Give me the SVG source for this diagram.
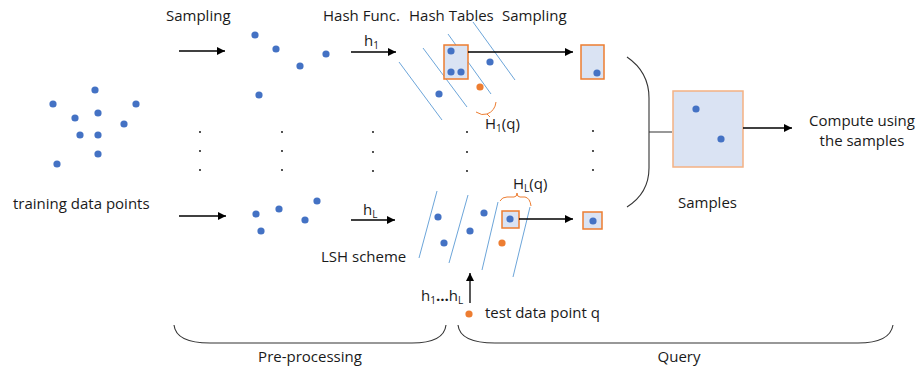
<svg xmlns="http://www.w3.org/2000/svg" width="917" height="371" viewBox="0 0 917 371">
  <defs>
    <marker id="arrow" viewBox="0 0 10 10" refX="10" refY="5" markerWidth="10" markerHeight="8" markerUnits="userSpaceOnUse" orient="auto">
      <path d="M0,0 L10,5 L0,10 z" fill="#000"/>
    </marker>
    <style>
      text { font-family: "Open Sans", "Liberation Sans", sans-serif; font-size: 15px; fill: #1a1a1a; }
      .pt { fill: #4472c4; }
      .q { fill: #ed7d31; }
      .bucket { fill: #dae3f3; stroke: #ed7d31; stroke-width: 1.5; }
      .cut { stroke: #5b9bd5; stroke-width: 0.9; fill: none; }
      .flow { stroke: #000; stroke-width: 1.3; fill: none; marker-end: url(#arrow); }
      .brace { stroke: #333; stroke-width: 1.1; fill: none; }
      .obrace { stroke: #ed7d31; stroke-width: 1; fill: none; }
      .ell { fill: #000; }
    </style>
  </defs>

  <!-- column headings -->
  <g id="headings">
    <text x="166" y="21">Sampling</text>
    <text x="323" y="21">Hash Func.</text>
    <text x="409" y="21">Hash Tables</text>
    <text x="502" y="21">Sampling</text>
  </g>

  <!-- full training set -->
  <g id="training">
    <circle class="pt" cx="95" cy="90" r="3.6"/>
    <circle class="pt" cx="53" cy="104" r="3.6"/>
    <circle class="pt" cx="136" cy="104" r="3.6"/>
    <circle class="pt" cx="75" cy="118" r="3.6"/>
    <circle class="pt" cx="98" cy="113" r="3.6"/>
    <circle class="pt" cx="124" cy="124" r="3.6"/>
    <circle class="pt" cx="80" cy="135" r="3.6"/>
    <circle class="pt" cx="98" cy="135" r="3.6"/>
    <circle class="pt" cx="98" cy="154" r="3.6"/>
    <circle class="pt" cx="57" cy="164" r="3.6"/>
    <text x="13" y="209">training data points</text>
  </g>

  <!-- sampled subsets -->
  <g id="subset-1">
    <circle class="pt" cx="255" cy="35" r="3.6"/>
    <circle class="pt" cx="276" cy="49" r="3.6"/>
    <circle class="pt" cx="300" cy="66" r="3.6"/>
    <circle class="pt" cx="326" cy="54" r="3.6"/>
    <circle class="pt" cx="259" cy="95" r="3.6"/>
  </g>
  <g id="subset-L">
    <circle class="pt" cx="256" cy="214" r="3.6"/>
    <circle class="pt" cx="279" cy="209" r="3.6"/>
    <circle class="pt" cx="317" cy="201" r="3.6"/>
    <circle class="pt" cx="305" cy="220" r="3.6"/>
    <circle class="pt" cx="261" cy="231" r="3.6"/>
  </g>

  <!-- hash table 1 -->
  <g id="table-1">
    <line class="cut" x1="399" y1="62" x2="442" y2="120"/>
    <line class="cut" x1="423" y1="48" x2="467" y2="107"/>
    <line class="cut" x1="448" y1="34" x2="491" y2="94"/>
    <line class="cut" x1="473" y1="22" x2="515" y2="80"/>
    <rect class="bucket" x="444" y="45" width="24" height="34"/>
    <circle class="pt" cx="451" cy="51" r="3.6"/>
    <circle class="pt" cx="451" cy="72" r="3.6"/>
    <circle class="pt" cx="461" cy="72" r="3.6"/>
    <circle class="pt" cx="490" cy="62" r="3.6"/>
    <circle class="pt" cx="439" cy="94" r="3.6"/>
    <circle class="q" cx="480" cy="87" r="3.6"/>
    <path class="obrace" d="M476,112 Q482,116 487,114 L490,117 M487,114 Q495,111 496,102"/>
    <text x="485" y="129">H<tspan font-size="10" dy="3">1</tspan><tspan dy="-3">(q)</tspan></text>
  </g>

  <!-- hash table L -->
  <g id="table-L">
    <line class="cut" x1="437" y1="191" x2="419" y2="258"/>
    <line class="cut" x1="468" y1="195" x2="449" y2="263"/>
    <line class="cut" x1="498" y1="202" x2="482" y2="270"/>
    <line class="cut" x1="530" y1="207" x2="513" y2="277"/>
    <circle class="pt" cx="438" cy="217" r="3.6"/>
    <circle class="pt" cx="484" cy="213" r="3.6"/>
    <circle class="pt" cx="470" cy="231" r="3.6"/>
    <circle class="pt" cx="444" cy="243" r="3.6"/>
    <circle class="q" cx="502" cy="243" r="3.6"/>
    <rect class="bucket" x="502" y="211" width="17" height="17"/>
    <circle class="pt" cx="510" cy="219" r="3.6"/>
    <path class="obrace" d="M500,201 Q502,197 507,197 L514,197 Q517,197 517,193 Q517,197 520,197 L525,197 Q530,198 531,206"/>
    <text x="513" y="189">H<tspan font-size="10" dy="3">L</tspan><tspan dy="-3">(q)</tspan></text>
    <text x="321" y="262">LSH scheme</text>
  </g>

  <!-- sampled buckets -->
  <g id="sample-1">
    <rect class="bucket" x="581" y="45" width="23" height="34"/>
    <circle class="pt" cx="597" cy="73" r="3.6"/>
  </g>
  <g id="sample-L">
    <rect class="bucket" x="583" y="212" width="19" height="17"/>
    <circle class="pt" cx="593" cy="221" r="3.6"/>
  </g>

  <!-- merged samples -->
  <g id="samples">
    <rect class="bucket" x="673" y="91" width="70" height="76" style="stroke:#f4b183"/>
    <circle class="pt" cx="696" cy="109" r="3.6"/>
    <circle class="pt" cx="721" cy="139" r="3.6"/>
    <text x="678" y="208">Samples</text>
  </g>

  <g id="compute">
    <text x="862" y="126" text-anchor="middle">Compute using</text>
    <text x="862" y="146" text-anchor="middle">the samples</text>
  </g>

  <!-- query point -->
  <g id="query-point">
    <circle class="q" cx="469" cy="314" r="3.6"/>
    <text x="485" y="318">test data point q</text>
    <text x="421" y="301">h<tspan font-size="10" dy="3">1</tspan><tspan dy="-3" font-weight="bold" letter-spacing="-1">…</tspan><tspan dx="1">h</tspan><tspan font-size="10" dy="3">L</tspan></text>
  </g>

  <!-- vertical ellipses between rows -->
  <g id="ellipses">
    <circle class="ell" cx="200" cy="132" r="0.9"/><circle class="ell" cx="200" cy="151" r="0.9"/><circle class="ell" cx="200" cy="170" r="0.9"/>
    <circle class="ell" cx="282" cy="132" r="0.9"/><circle class="ell" cx="282" cy="151" r="0.9"/><circle class="ell" cx="282" cy="170" r="0.9"/>
    <circle class="ell" cx="373" cy="132" r="0.9"/><circle class="ell" cx="373" cy="152" r="0.9"/><circle class="ell" cx="373" cy="171" r="0.9"/>
    <circle class="ell" cx="467" cy="132" r="0.9"/><circle class="ell" cx="467" cy="152" r="0.9"/><circle class="ell" cx="467" cy="171" r="0.9"/>
    <circle class="ell" cx="593" cy="131" r="0.9"/><circle class="ell" cx="593" cy="151" r="0.9"/><circle class="ell" cx="593" cy="170" r="0.9"/>
  </g>

  <!-- stage labels -->
  <g id="stages">
    <text x="310" y="362" text-anchor="middle">Pre-processing</text>
    <text x="679" y="362" text-anchor="middle">Query</text>
  </g>

  <!-- connectors -->
  <g id="connectors">
    <line class="flow" x1="179" y1="51" x2="225" y2="51"/>
    <line class="flow" x1="179" y1="216" x2="226" y2="216"/>
    <line class="flow" x1="351" y1="52" x2="396" y2="52"/>
    <text x="364" y="46">h<tspan font-size="10" dy="3">1</tspan></text>
    <line class="flow" x1="351" y1="220" x2="395" y2="220"/>
    <text x="363" y="215">h<tspan font-size="10" dy="3">L</tspan></text>
    <line class="flow" x1="468" y1="52" x2="573" y2="52"/>
    <line class="flow" x1="519" y1="219" x2="573" y2="219"/>
    <line class="flow" x1="470" y1="303" x2="470" y2="273"/>
    <line class="flow" x1="743" y1="128" x2="792" y2="128"/>
    <!-- brace gathering the per-table samples -->
    <path class="brace" d="M627,57 Q649,72 649,98 L649,168 Q649,193 627,207 M649,132 L672,132"/>
    <!-- stage braces -->
    <path class="brace" d="M174,325 Q176,343 210,343 L412,343 Q444,343 446,325"/>
    <path class="brace" d="M458,325 Q460,343 495,343 L858,343 Q890,343 893,325"/>
  </g>
</svg>
